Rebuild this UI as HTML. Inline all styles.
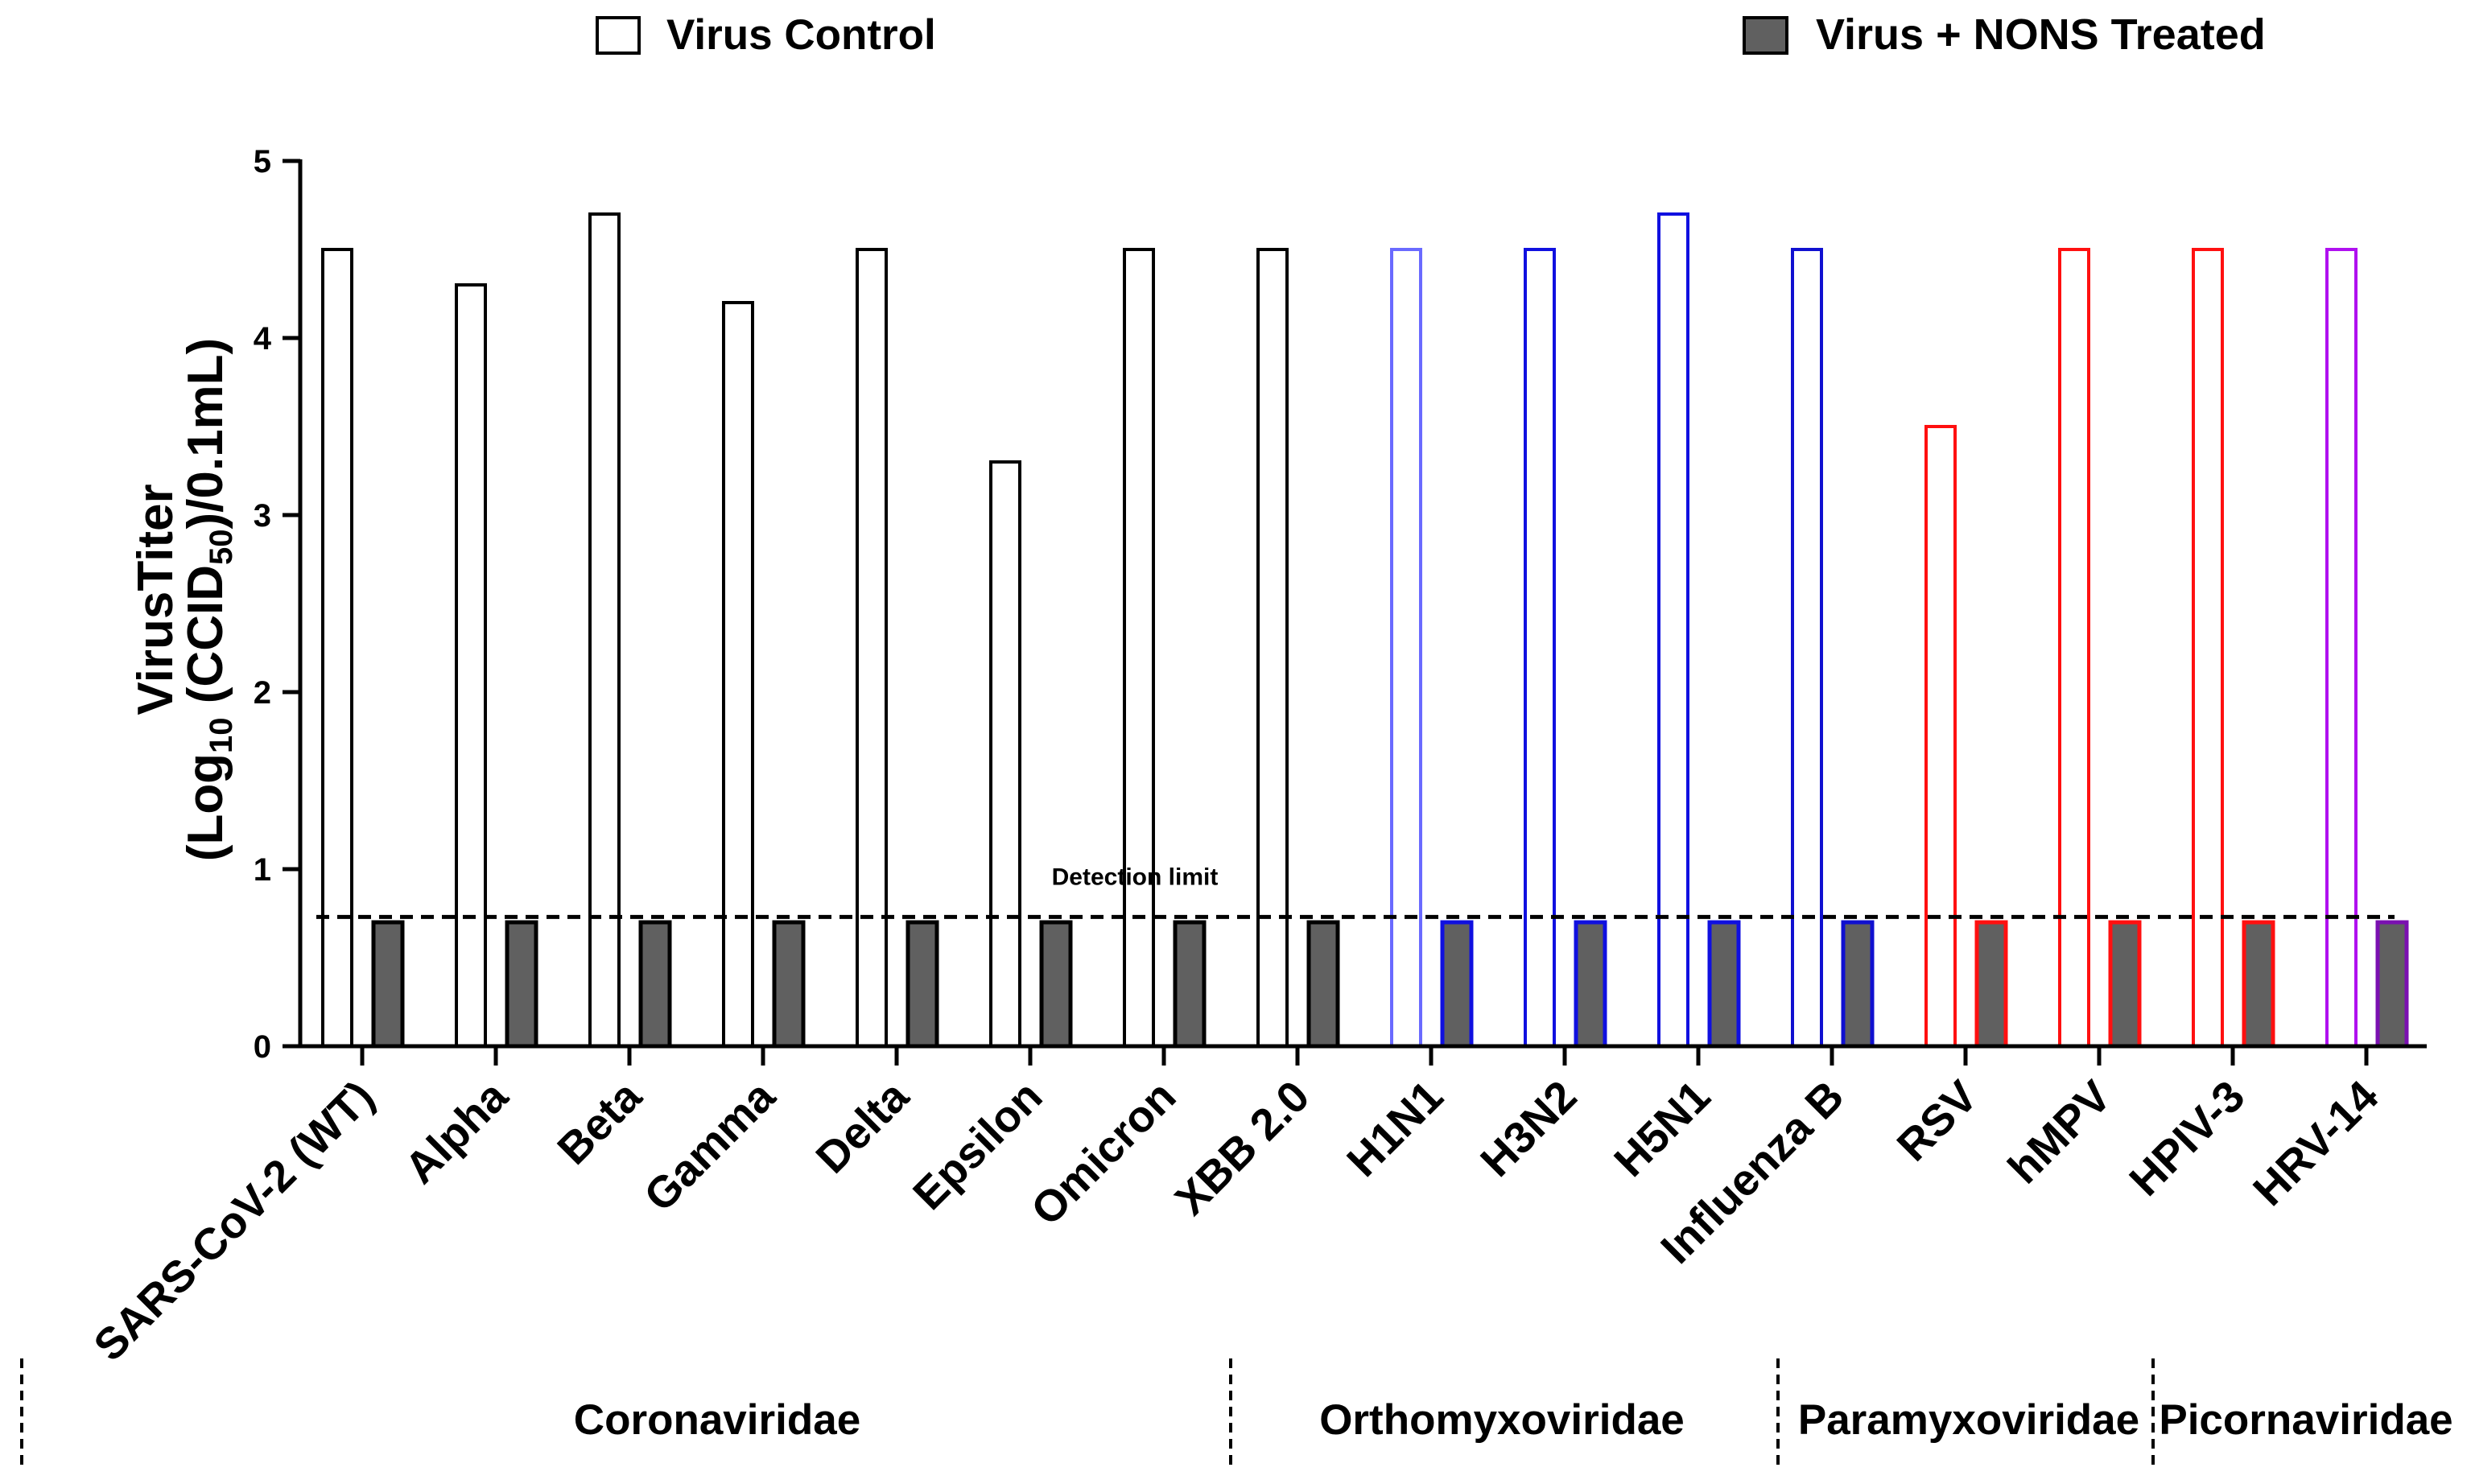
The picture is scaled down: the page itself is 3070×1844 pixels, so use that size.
<!DOCTYPE html>
<html><head><meta charset="utf-8"><style>
html,body{margin:0;padding:0;background:#fff;}
svg{display:block;font-family:"Liberation Sans",Arial,sans-serif;font-weight:bold;}
</style></head><body>
<svg id="chart" width="3070" height="1844" viewBox="0 0 3070 1844" xmlns="http://www.w3.org/2000/svg">
<g>
  <rect x="742" y="22" width="52" height="44" fill="#fff" stroke="#000" stroke-width="4"/>
  <text x="828" y="61" font-size="53">Virus Control</text>
  <rect x="2167" y="22" width="53" height="44" fill="#606060" stroke="#000" stroke-width="4"/>
  <text x="2256" y="61" font-size="54">Virus + NONS Treated</text>
</g>
<g>
  <text transform="translate(214,745) rotate(-90)" text-anchor="middle" font-size="62">VirusTiter</text>
  <text transform="translate(276,745) rotate(-90)" text-anchor="middle" font-size="62">(Log<tspan font-size="40" dy="12">10</tspan><tspan dy="-12"> (CCID</tspan><tspan font-size="40" dy="12">50</tspan><tspan dy="-12">)/0.1mL)</tspan></text>
</g>
<g id="plot"></g>
<g id="families"></g>
</svg>
<script>
const categories=["SARS-CoV-2 (WT)","Alpha","Beta","Gamma","Delta","Epsilon","Omicron","XBB 2.0","H1N1","H3N2","H5N1","Influenza B","RSV","hMPV","HPIV-3","HRV-14"];
const controlValues=[4.5,4.3,4.7,4.2,4.5,3.3,4.5,4.5,4.5,4.5,4.7,4.5,3.5,4.5,4.5,4.5];
const treatedValues=[0.7,0.7,0.7,0.7,0.7,0.7,0.7,0.7,0.7,0.7,0.7,0.7,0.7,0.7,0.7,0.7];
const yTicks=[0,1,2,3,4,5];
const detectionLimit=0.73;
const families=["Coronaviridae","Orthomyxoviridae","Paramyxoviridae","Picornaviridae"];
const barColors=["#000","#000","#000","#000","#000","#000","#000","#000","#6a6aff","#1010e0","#1010e0","#1010d0","#ff1010","#ff1010","#ff1010","#b010f0"];
const treatedStroke=["#000","#000","#000","#000","#000","#000","#000","#000","#1010e0","#1010e0","#1010e0","#1010d0","#ff1010","#ff1010","#ff1010","#7a10b0"];
const NS="http://www.w3.org/2000/svg";
const plot=document.getElementById('plot');
const x0=373,xEnd=3015,y0=1300,pxPerUnit=220,firstTick=450,step=166;
function yS(v){return y0-v*pxPerUnit;}
function xS(i){return firstTick+i*step;}
function mk(tag,attrs,parent){const e=document.createElementNS(NS,tag);for(const k in attrs)e.setAttribute(k,attrs[k]);(parent||plot).appendChild(e);return e;}
categories.forEach((c,i)=>{
  const cx=xS(i)-31,tx=xS(i)+32,w=36;
  const b=mk('rect',{x:cx-w/2,y:yS(controlValues[i]),width:w,height:y0-yS(controlValues[i]),fill:'#fff',stroke:barColors[i],'stroke-width':4});
  
  
  const t=mk('rect',{x:tx-w/2,y:yS(treatedValues[i]),width:w,height:y0-yS(treatedValues[i]),fill:'#606060',stroke:treatedStroke[i],'stroke-width':5});
  
  
});
const dl=mk('line',{x1:x0+20,x2:xEnd-40,y1:yS(detectionLimit),y2:yS(detectionLimit),stroke:'#000','stroke-width':5,'stroke-dasharray':'16 10'});


const dt=mk('text',{x:1410,y:yS(detectionLimit)-40,'font-size':30,'text-anchor':'middle'});
dt.textContent='Detection limit';


const ya=mk('line',{x1:x0,x2:x0,y1:yS(5)-2,y2:y0+2,stroke:'#000','stroke-width':5});


const xa=mk('line',{x1:x0-2,x2:xEnd,y1:y0,y2:y0,stroke:'#000','stroke-width':5});


yTicks.forEach(v=>{
  const tk=mk('line',{x1:x0-22,x2:x0,y1:yS(v),y2:yS(v),stroke:'#000','stroke-width':5});
  
  
  const tl=mk('text',{x:x0-36,y:yS(v)+14,'font-size':40,'text-anchor':'end'});
  tl.textContent=v;
  
  
});
categories.forEach((c,i)=>{
  const tk=mk('line',{x1:xS(i),x2:xS(i),y1:y0,y2:y0+24,stroke:'#000','stroke-width':5});
  
  
  const tl=mk('text',{transform:`translate(${xS(i)+18},${y0+66}) rotate(-45)`,'font-size':55,'text-anchor':'end'});
  tl.textContent=c;
  
  
});
const fg=document.getElementById('families');
const famCenters=[891,1866,2446,2865];
const sepX=[27,1529,2209,2675];
sepX.forEach(x=>{
  const l=mk('line',{x1:x,x2:x,y1:1688,y2:1822,stroke:'#000','stroke-width':4,'stroke-dasharray':'12 8'},fg);
  
  
});
families.forEach((f,i)=>{
  const t=mk('text',{x:famCenters[i],y:1782,'font-size':53,'text-anchor':'middle'},fg);
  t.textContent=f;
  
  
});
</script>
</body></html>
